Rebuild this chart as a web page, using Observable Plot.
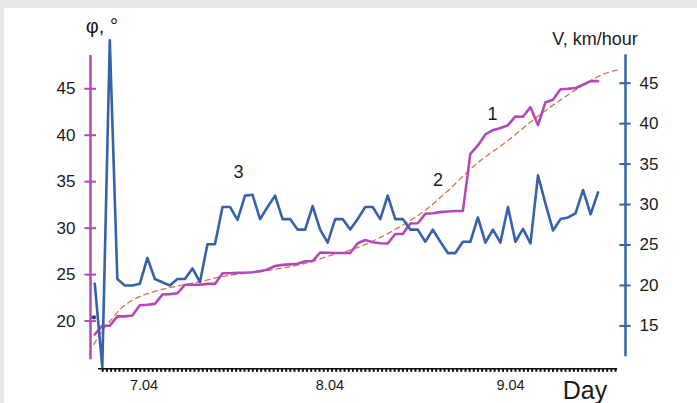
<!DOCTYPE html>
<html>
<head>
<meta charset="utf-8">
<script src="https://cdn.jsdelivr.net/npm/d3@7"></script>
<script src="https://cdn.jsdelivr.net/npm/@observablehq/plot@0.6"></script>
<style>
  html, body { margin: 0; padding: 0; background: #e6e7e9; width: 697px; height: 403px; overflow: hidden; }
  #panel { position: absolute; left: 4px; top: 8px; width: 693px; height: 395px; background: #ffffff; }
  #chart { position: absolute; left: 0; top: 0; }
</style>
</head>
<body>
<div id="panel"></div>
<div id="chart"></div>
<script>
// ---- data (hourly readings) ----
const hours = d3.range(0, 68);
// curve 3: wind speed V, km/hour (right axis)
const speed = [20.2, 9.9, 50.3, 20.8, 20.0, 20.0, 20.2, 23.4, 20.8, 20.4, 20.0, 20.8, 20.8, 22.1, 20.4, 25.1, 25.1, 29.7, 29.7, 28.1,
               31.1, 31.2, 28.2, 29.7, 31.1, 28.2, 28.2, 26.9, 26.9, 29.8, 26.9, 25.3, 28.2, 28.2, 26.9, 28.2, 29.7, 29.7, 28.2, 31.1,
               28.2, 28.2, 26.9, 26.9, 25.4, 26.9, 25.4, 24.0, 24.0, 25.4, 25.4, 28.4, 25.3, 26.9, 25.3, 29.7, 25.4, 27.0, 25.2, 33.6,
               30.1, 26.8, 28.2, 28.4, 28.9, 31.8, 28.8, 31.5];
// curve 1: angle φ, degrees (left axis)
const angle = [18.55, 19.5, 19.5, 20.5, 20.5, 20.6, 21.7, 21.75, 21.85, 22.85, 22.9, 23.0, 23.9, 23.9, 23.9, 24.0, 24.0, 25.15, 25.15, 25.2,
               25.2, 25.26, 25.37, 25.55, 25.93, 26.05, 26.1, 26.16, 26.44, 26.44, 27.38, 27.35, 27.33, 27.33, 27.33, 28.38, 28.72, 28.49, 28.38, 28.35,
               29.37, 29.37, 30.5, 30.53, 31.54, 31.61, 31.72, 31.79, 31.85, 31.85, 38.0, 38.9, 40.08, 40.54, 40.78, 41.08, 42.02, 41.99, 43.02, 41.1,
               43.56, 43.82, 44.95, 45.0, 45.09, 45.43, 45.82, 45.82];
// curve 2: trend of φ (dashed)
const trendHours = [-0.13, 1, 2.1, 3.2, 5.4, 7.6, 9.9, 12.1, 14.3, 16.5, 18.7, 23, 27.4, 31.4, 35.4, 38, 40.7, 44.3, 46.9, 50.4, 55, 59.3, 63.7, 66, 68.3, 70];
const trendPhi   = [17.48, 18.98, 20.06, 21.14, 22.4, 23.1, 23.58, 23.93, 24.29, 24.72, 25.01, 25.44, 26.09, 27.06, 28.03, 29.0, 30.18, 32.12, 33.95, 36.64, 39.44, 42.23, 44.72, 45.89, 46.75, 47.08];
// start marker
const startMark = [{hour: -0.13, phi: 20.4}];

// axes
const phiTicks = [20, 25, 30, 35, 40, 45];
const vTicks = [15, 20, 25, 30, 35, 40, 45];
const dayLabels = ["7.04", "8.04", "9.04"];
const dayHours = [6.55, 31.3, 55.35];
const hourDomain = [-0.57, 70.65];
const phiDomain = [15.83, 48.58];
const vAxisRange = [11.2, 48.5];
const xAxisRange = [0.49, 69.6];
const minorStep = 0.555;
const curveLabels = [
  {text: "1", hour: 52.94, phi: 42.23},
  {text: "2", hour: 45.69, phi: 35.13},
  {text: "3", hour: 19.13, phi: 35.99}
];

// V (km/hour) expressed on the φ scale
const vToPhi = v => 45.603 - (45 - v) * 0.87083;

const MAG = "#b548b8", BLUE = "#3562aa", ORANGE = "#d8743e", INK = "#1a1a1a";
const xL = hourDomain[0], xR = hourDomain[1];
const xAxisPhi = 14.86;

const series = hours.map((h, i) => ({hour: h, v: speed[i], phi: angle[i]}));
const trend = trendHours.map((h, i) => ({hour: h, phi: trendPhi[i]}));
const minor = d3.range(1.06, xAxisRange[1], minorStep);

const chart = Plot.plot({
  width: 697,
  height: 403,
  marginLeft: 90,
  marginRight: 72,
  marginTop: 55,
  marginBottom: 43.7,
  style: {background: "transparent", fontFamily: "'Liberation Sans', Arial, sans-serif", color: INK},
  x: {domain: hourDomain, axis: null},
  y: {domain: phiDomain, axis: null},
  marks: [
    // left axis (φ)
    Plot.ruleX([xL], {y1: phiDomain[0], y2: phiDomain[1], stroke: MAG, strokeWidth: 2.5}),
    Plot.ruleY(phiTicks, {y: d => d, x1: xL - 0.75, x2: xL + 0.8, stroke: MAG, strokeWidth: 2}),
    Plot.text(phiTicks, {x: xL, y: d => d, text: d => String(d), dx: -15, textAnchor: "end", fontSize: 17, fill: INK}),
    // right axis (V)
    Plot.ruleX([xR], {y1: vToPhi(vAxisRange[0]), y2: vToPhi(vAxisRange[1]), stroke: BLUE, strokeWidth: 2.5}),
    Plot.ruleY(vTicks, {y: v => vToPhi(v), x1: xR - 0.75, x2: xR + 0.75, stroke: BLUE, strokeWidth: 2}),
    Plot.text(vTicks, {x: xR, y: v => vToPhi(v), text: d => String(d), dx: 14, textAnchor: "start", fontSize: 17, fill: INK}),
    // bottom time axis
    Plot.ruleY([xAxisPhi], {x1: xAxisRange[0], x2: xAxisRange[1], stroke: "#111", strokeWidth: 1.5}),
    Plot.ruleX(minor, {x: d => d, y1: xAxisPhi, y2: xAxisPhi - 0.38, stroke: "#111", strokeWidth: 2}),
    Plot.text(dayLabels, {x: (d, i) => dayHours[i], y: 13.03, text: d => d, fontSize: 14.5, fill: INK}),
    Plot.text(["Day"], {x: 65.26, y: 12.52, text: d => d, fontSize: 25, fill: INK}),
    // axis titles
    Plot.text(["φ, °"], {x: 0.95, y: 51.7, text: d => d, fontSize: 20, fill: INK}),
    Plot.text(["V, km/hour"], {x: 66.59, y: 50.31, text: d => d, fontSize: 18, fill: INK}),
    // curves
    Plot.line(trend, {x: "hour", y: "phi", stroke: ORANGE, strokeWidth: 1.3, strokeDasharray: "5,4", curve: "monotone-x"}),
    Plot.line(series, {x: "hour", y: "phi", stroke: MAG, strokeWidth: 2.6}),
    Plot.line(series, {x: "hour", y: d => vToPhi(d.v), stroke: BLUE, strokeWidth: 2.6}),
    Plot.dot(startMark, {x: "hour", y: "phi", r: 2.2, fill: "#34349a", stroke: "none"}),
    Plot.text(curveLabels, {x: "hour", y: "phi", text: "text", fontSize: 18, fill: INK})
  ]
});
document.getElementById("chart").appendChild(chart);
</script>
</body>
</html>
